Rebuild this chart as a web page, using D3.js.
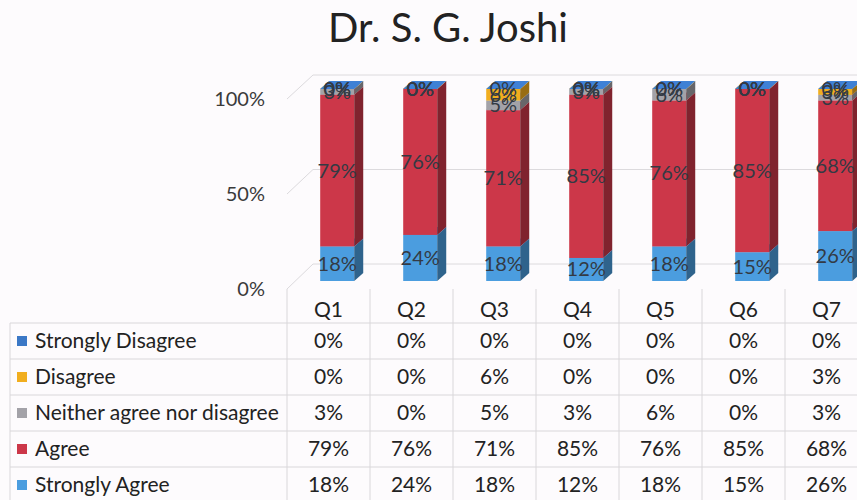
<!DOCTYPE html>
<html>
<head>
<meta charset="utf-8">
<script src="https://cdn.jsdelivr.net/npm/d3@7"></script>
<style>
  html, body { margin: 0; padding: 0; background: #fdfbfd; }
  svg { display: block; }
  text { font-family: Lato, "Noto Sans", sans-serif; }
</style>
</head>
<body>
<svg id="chart" width="857" height="500"></svg>
<script>
// Survey results per question (percent of responses)
const categories = ["Q1", "Q2", "Q3", "Q4", "Q5", "Q6", "Q7"];
const seriesNames = ["Strongly Disagree", "Disagree", "Neither agree nor disagree", "Agree", "Strongly Agree"];
const stronglyDisagree = [0, 0, 0, 0, 0, 0, 0];
const disagree = [0, 0, 6, 0, 0, 0, 3];
const neither = [3, 0, 5, 3, 6, 0, 3];
const agree = [79, 76, 71, 85, 76, 85, 68];
const stronglyAgree = [18, 24, 18, 12, 18, 15, 26];
const yTicks = [0, 50, 100];
const tickLabels = ["0%", "50%", "100%"];

const seriesValues = {
  "Strongly Disagree": stronglyDisagree,
  "Disagree": disagree,
  "Neither agree nor disagree": neither,
  "Agree": agree,
  "Strongly Agree": stronglyAgree
};
const colors = {
  "Strongly Disagree": "#3b78c6",
  "Disagree": "#f1ae1f",
  "Neither agree nor disagree": "#a3a2a8",
  "Agree": "#cc3749",
  "Strongly Agree": "#4b9ddf"
};

const rows = categories.map((c, i) => {
  const r = { cat: c };
  seriesNames.forEach(s => { r[s] = seriesValues[s][i]; });
  return r;
});
// stacked bottom-up: Strongly Agree first, Strongly Disagree on top
const stackOrder = seriesNames.slice().reverse();
const stacked = d3.stack().keys(stackOrder)(rows);

const svg = d3.select("#chart");
const W = 857;

// title
svg.append("text")
  .attr("x", 448).attr("y", 42)
  .attr("text-anchor", "middle")
  .attr("font-size", 40)
  .attr("fill", "#222")
  .text("Dr. S. G. Joshi");

// horizontal layout: one table column per question
const x = d3.scaleBand().domain(categories).range([287, 287 + 83 * 7]).padding(0);
const bw = x.bandwidth();

// vertical scales for front edge of walls, bar fronts, and back wall
const yFront = d3.scaleLinear().domain([0, 100]).range([289, 99]);
const yBar = d3.scaleLinear().domain([0, 100]).range([281, 89]);
const yBack = d3.scaleLinear().domain([0, 100]).range([264, 75]);
const wallDX = 26;
const wallX0 = x.range()[0];

// walls and gridlines
const grid = svg.append("g").attr("stroke", "#dcdadd").attr("stroke-width", 1).attr("fill", "none");
yTicks.forEach(t => {
  grid.append("line")
    .attr("x1", wallX0).attr("y1", yFront(t))
    .attr("x2", wallX0 + wallDX).attr("y2", yBack(t));
  grid.append("line")
    .attr("x1", wallX0 + wallDX).attr("y1", yBack(t))
    .attr("x2", W).attr("y2", yBack(t));
});

// y-axis labels
svg.append("g").selectAll("text").data(yTicks).join("text")
  .attr("x", 265).attr("y", d => yFront(d))
  .attr("dy", "0.35em")
  .attr("text-anchor", "end")
  .attr("font-size", 20)
  .attr("fill", "#3a3a3a")
  .text((d, i) => tickLabels[i]);

// 3D bars
const depthX = 9, depthY = 8;
const barLeft = c => x(c) + bw * 0.4;
const barW = bw * 0.41;
const shade = (col, k) => d3.color(col).darker(k).formatHex();

const bars = svg.append("g");
categories.forEach((c, ci) => {
  const g = bars.append("g");
  stacked.forEach(layer => {
    const key = layer.key;
    const d = layer[ci];
    const x0 = barLeft(c), x1 = x0 + barW;
    const yb = yBar(d[0]), yt = yBar(d[1]);
    const col = colors[key];
    // front face
    g.append("rect")
      .attr("x", x0).attr("y", yt)
      .attr("width", barW).attr("height", Math.max(0, yb - yt))
      .attr("fill", col);
    // side face
    g.append("path")
      .attr("d", `M${x1},${yb}L${x1 + depthX},${yb - depthY}L${x1 + depthX},${yt - depthY}L${x1},${yt}Z`)
      .attr("fill", shade(col, 1.3));
    // top face
    g.append("path")
      .attr("d", `M${x0},${yt}L${x1},${yt}L${x1 + depthX},${yt - depthY}L${x0 + depthX},${yt - depthY}Z`)
      .attr("fill", d3.color(col).brighter(0.2).formatHex());
  });
});

// data labels on each segment
const labels = svg.append("g")
  .attr("font-size", 20)
  .attr("fill", "#333a44")
  .attr("text-anchor", "middle");
stacked.forEach(layer => {
  layer.forEach((d, ci) => {
    const c = categories[ci];
    labels.append("text")
      .attr("x", barLeft(c) + barW / 2)
      .attr("y", yBar((d[0] + d[1]) / 2))
      .attr("dy", "0.35em")
      .text((d[1] - d[0]) + "%");
  });
});

// data table
const tableTop = 289, headerBottom = 323, rowH = 36;
const tableLeft = 10;
const tbl = svg.append("g");
const lines = tbl.append("g").attr("stroke", "#d9d7da").attr("stroke-width", 1);
d3.range(seriesNames.length + 1).forEach(i => {
  const yy = headerBottom + i * rowH;
  lines.append("line").attr("x1", tableLeft).attr("x2", W).attr("y1", yy).attr("y2", yy);
});
lines.append("line").attr("x1", tableLeft).attr("x2", tableLeft).attr("y1", headerBottom).attr("y2", 500);
categories.concat(["_end"]).forEach((c, i) => {
  const xx = wallX0 + i * bw;
  lines.append("line").attr("x1", xx).attr("x2", xx).attr("y1", tableTop).attr("y2", 500);
});

// header labels
tbl.append("g").selectAll("text").data(categories).join("text")
  .attr("x", c => x(c) + bw / 2)
  .attr("y", (tableTop + headerBottom) / 2 + 4)
  .attr("dy", "0.35em")
  .attr("text-anchor", "middle")
  .attr("font-size", 21)
  .attr("fill", "#222")
  .text(c => c);

// row legend + values
seriesNames.forEach((s, ri) => {
  const cy = headerBottom + ri * rowH + rowH / 2;
  tbl.append("rect")
    .attr("x", 17).attr("y", cy - 5)
    .attr("width", 10).attr("height", 10)
    .attr("fill", colors[s]);
  tbl.append("text")
    .attr("x", 35).attr("y", cy)
    .attr("dy", "0.35em")
    .attr("font-size", 21)
    .attr("fill", "#222")
    .text(s);
  tbl.append("g").selectAll("text").data(categories).join("text")
    .attr("x", c => x(c) + bw / 2)
    .attr("y", cy)
    .attr("dy", "0.35em")
    .attr("text-anchor", "middle")
    .attr("font-size", 21)
    .attr("fill", "#222")
    .text((c, ci) => seriesValues[s][ci] + "%");
});
</script>
</body>
</html>
